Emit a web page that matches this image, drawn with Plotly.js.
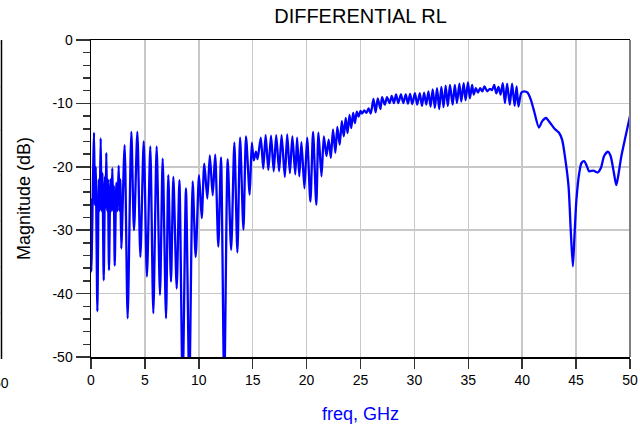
<!DOCTYPE html>
<html>
<head>
<meta charset="utf-8">
<script src="https://cdn.plot.ly/plotly-3.0.1.min.js"></script>
<style>html,body{margin:0;padding:0;background:#fff;}#chart{width:640px;height:424px;}</style>
</head>
<body>
<div id="chart"></div>
<script>
// frequency points (GHz)
const freqGHz = [
 0.00,0.03,0.28,0.36,0.44,0.59,0.72,0.80,0.90,0.98,1.06,1.18,1.30,1.36,1.42,1.50,1.57,1.67,1.80,1.88,1.98,2.05,2.12,2.20,
 2.35,2.45,2.57,2.65,2.72,2.81,3.12,3.40,3.74,3.99,4.30,4.58,4.89,5.19,
 5.50,5.78,6.09,6.40,6.65,6.96,7.17,7.42,7.64,7.95,8.20,8.50,8.81,9.12,9.43,9.71,10.02,10.27,10.51,10.79,
 11.02,11.29,11.52,11.81,12.06,12.36,12.68,13.00,13.30,13.58,13.83,14.14,14.38,14.72,14.92,15.10,15.30,15.45,15.75,15.98,
 16.20,16.45,16.70,16.95,17.18,17.45,17.68,17.98,18.20,18.45,18.68,18.95,19.12,19.32,19.52,19.80,20.05,20.35,20.60,20.90,
 21.10,21.38,21.60,21.84,22.05,22.25,22.45,22.67,22.85,23.07,23.27,23.45,23.63,23.80,23.98,24.14,24.32,24.48,24.66,24.82,
 25.00,25.15,25.35,25.55,25.75,25.95,26.20,26.40,26.60,26.85,27.00,27.25,27.46,27.70,27.90,28.10,28.30,28.50,28.75,28.97,
 29.20,29.40,29.60,29.80,30.05,30.26,30.50,30.70,30.90,31.10,31.30,31.50,31.70,31.90,32.10,32.30,32.50,32.70,32.90,33.10,
 33.30,33.55,33.75,33.95,34.17,34.35,34.57,34.75,34.97,35.15,35.35,35.50,35.70,35.90,36.10,36.30,36.50,36.75,37.00,37.20,
 37.40,37.60,37.80,38.00,38.20,38.40,38.60,38.85,39.06,39.30,39.48,39.65,39.92,40.20,40.50,40.80,41.10,41.55,41.86,42.20,
 42.60,43.00,43.40,43.70,44.00,44.30,44.50,44.70,44.85,45.03,45.30,45.50,45.75,46.00,46.20,46.60,47.00,47.30,47.60,47.95,
 48.20,48.50,48.73,48.90,49.20,49.60,50.00
];
// magnitude (dB) at those points
const magDb = [
 -25.0,-36.5,-14.6,-26.0,-20.0,-42.8,-22.0,-27.0,-15.5,-27.0,-21.0,-37.9,-21.5,-26.5,-17.8,-27.0,-22.0,-36.3,-22.0,-27.0,-20.2,-27.0,-23.0,-35.6,
 -22.5,-27.0,-19.8,-27.0,-22.0,-32.9,-16.6,-43.9,-14.5,-30.0,-14.5,-34.2,-16.0,-37.3,
 -16.8,-43.1,-16.8,-40.2,-18.7,-43.9,-21.3,-38.1,-21.6,-39.2,-22.1,-55.0,-23.4,-55.0,-22.3,-34.2,-21.3,-28.1,-19.5,-25.0,
 -18.2,-24.5,-18.1,-32.6,-18.5,-55.0,-18.8,-33.1,-16.2,-33.5,-15.4,-29.9,-15.2,-24.4,-16.2,-19.0,-17.6,-18.8,-15.4,-20.3,
 -15.0,-20.5,-15.1,-20.7,-15.0,-20.7,-15.0,-21.6,-14.9,-21.0,-15.2,-21.2,-15.4,-21.5,-16.1,-23.4,-15.4,-25.5,-14.5,-26.0,
 -14.6,-21.5,-15.2,-18.3,-15.7,-18.6,-14.1,-17.8,-13.7,-16.5,-12.8,-15.2,-12.3,-14.7,-11.8,-13.9,-11.5,-13.1,-11.3,-12.1,
 -11.2,-11.6,-11.1,-11.5,-10.8,-11.6,-9.3,-11.4,-9.2,-10.9,-9.0,-10.2,-9.0,-9.95,-8.8,-9.95,-8.6,-9.95,-8.6,-9.95,
 -8.6,-10.05,-8.5,-10.1,-8.4,-10.2,-8.4,-10.4,-8.3,-10.2,-8.1,-10.5,-7.8,-10.7,-7.6,-10.9,-7.4,-10.6,-7.2,-10.4,
 -7.1,-10.2,-7.1,-9.95,-6.9,-9.7,-6.8,-9.5,-6.7,-9.2,-7.1,-8.6,-7.6,-8.3,-7.6,-8.1,-7.3,-8.1,-7.7,-7.9,
 -7.1,-8.4,-7.4,-8.6,-6.8,-9.95,-6.9,-10.2,-6.9,-10.4,-7.3,-10.5,-8.3,-8.1,-8.3,-9.4,-11.2,-13.8,-12.8,-12.3,
 -13.1,-14.0,-14.6,-15.7,-18.8,-23.1,-29.9,-35.7,-30.9,-25.2,-20.9,-19.4,-19.1,-19.9,-20.7,-20.6,-20.9,-20.2,-18.3,-17.6,
 -18.3,-20.9,-22.9,-21.5,-18.3,-15.1,-12.0
];
const xTicks = [0,5,10,15,20,25,30,35,40,45,50];
const yTicks = [0,-10,-20,-30,-40,-50];

const FONT = 'Liberation Sans, Arial, sans-serif';
const L = 91, R = 630, T = 40, B = 357;
const pw = R - L, ph = B - T;
const px = v => (v - L) / pw;          // pixel x -> paper
const py = v => (B - v) / ph;          // pixel y -> paper

const shapes = [
  {type:'line', xref:'paper', yref:'paper', x0:1, x1:1, y0:0, y1:1, line:{color:'#7f7f7f', width:2}},
  {type:'line', xref:'paper', yref:'paper', x0:px(1.5), x1:px(1.5), y0:py(359), y1:1, line:{color:'#000', width:1.5}}
];
[43,87,130,175,221,267,313].forEach(y => shapes.push(
  {type:'line', xref:'paper', yref:'paper', x0:px(-1), x1:px(1), y0:py(y), y1:py(y), line:{color:'#999', width:1}}
));

const trace = {
  x: freqGHz, y: magDb, type:'scatter', mode:'lines',
  line:{color:'#0000ff', width:2.3, shape:'spline', smoothing:0.7},
  hoverinfo:'skip'
};

const layout = {
  width:640, height:424,
  margin:{l:L, r:640-R, t:T, b:424-B, pad:0},
  paper_bgcolor:'#fff', plot_bgcolor:'#fff',
  font:{family:FONT, color:'#000'},
  showlegend:false,
  title:{text:'DIFFERENTIAL RL', font:{family:FONT, size:20, color:'#000'},
         xref:'paper', x:0.5, xanchor:'center', yref:'container', y:1-16/424, yanchor:'middle'},
  xaxis:{
    range:[0,50], tickvals:xTicks, ticktext:xTicks.map(String),
    showgrid:true, gridcolor:'#c8c8c8', gridwidth:1.5, zeroline:false,
    showline:true, linecolor:'#000', linewidth:1.5, mirror:true,
    ticks:'outside', ticklen:10, tickwidth:1.5, tickcolor:'#333',
    tickfont:{family:FONT, size:14, color:'#000'},
    automargin:false,
    title:{text:'freq, GHz', font:{family:FONT, size:18, color:'#0000ff'}, standoff:22}
  },
  yaxis:{
    range:[-50,0], tickvals:yTicks, ticktext:yTicks.map(String),
    showgrid:true, gridcolor:'#c8c8c8', gridwidth:1.5, zeroline:false,
    showline:true, linecolor:'#000', linewidth:1.5, mirror:false,
    ticks:'outside', ticklen:14, tickwidth:1.5, tickcolor:'#333',
    minor:{ticks:'outside', ticklen:7, tickwidth:1.5, tickcolor:'#333', dtick:2, tick0:0, showgrid:false},
    tickfont:{family:FONT, size:14, color:'#000'},
    automargin:false,
    title:{text:'Magnitude (dB)', font:{family:FONT, size:18, color:'#000'}, standoff:17}
  },
  shapes:shapes,
  annotations:[
    {text:'50', xref:'paper', yref:'paper', x:px(10.5), y:py(383), xanchor:'right', yanchor:'middle',
     showarrow:false, font:{family:FONT, size:14, color:'#000'}}
  ]
};

Plotly.newPlot('chart', [trace], layout, {displayModeBar:false, staticPlot:true});
</script>
</body>
</html>
